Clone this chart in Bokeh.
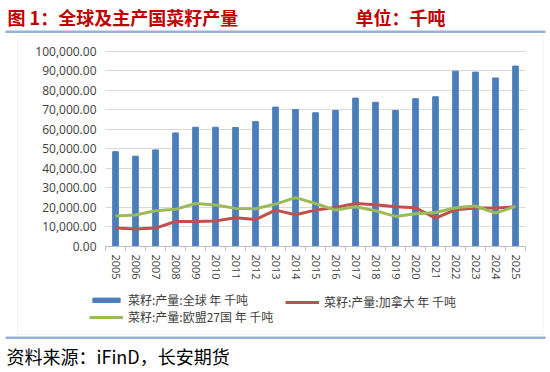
from bokeh.plotting import figure
from bokeh.models import (Range1d, FixedTicker, NumeralTickFormatter, Legend, LegendItem,
                          Label, BoxAnnotation, ColumnDataSource, Grid)
from bokeh.embed import file_html
from bokeh.resources import INLINE

years = list(range(2005, 2026))
world = [48500, 46200, 49400, 58100, 61000, 61000, 60900, 63900, 71300, 70100, 68400,
         69600, 75900, 73800, 69600, 75600, 76600, 89700, 89200, 86200, 92300]
canada = [9400, 8900, 9400, 12800, 12800, 13000, 14700, 13800, 18600, 16200, 18600,
          20000, 22000, 21400, 20300, 19800, 14500, 18800, 19700, 19700, 20300]
eu27 = [15600, 16100, 18300, 19000, 22000, 21200, 19500, 19300, 21700, 25000, 22000,
        18600, 20300, 18300, 15400, 16800, 17400, 19800, 20700, 17100, 20500]

title_text = "图 1：全球及主产国菜籽产量"
unit_text = "单位：千吨"
source_text = "资料来源：iFinD，长安期货"
legend_labels = ["菜籽:产量:全球 年 千吨", "菜籽:产量:加拿大 年 千吨", "菜籽:产量:欧盟27国 年 千吨"]
y_ticks = list(range(0, 100001, 10000))

# ---- layout (pixels on the canvas) ----
W, H = 550, 372
PX_L, PX_R = 105, 525        # plot area left/right
PY_T, PY_B = 50.5, 246       # plot area top (100k) / bottom (0)
x0, x1 = years[0] - 0.5, years[-1] + 0.5
y_lo, y_hi = 0, 100000
xu = (x1 - x0) / (PX_R - PX_L)          # data per px
yu = (y_hi - y_lo) / (PY_B - PY_T)
x_range = Range1d(x0 - PX_L * xu, x1 + (W - PX_R) * xu)
y_range = Range1d(y_lo - (H - PY_B) * yu, y_hi + PY_T * yu)

src = ColumnDataSource(dict(year=years, world=world, canada=canada, eu27=eu27))

p = figure(width=W, height=H, output_backend="svg", toolbar_location=None,
           x_range=x_range, y_range=y_range, min_border=0, title=None)
p.outline_line_color = None
p.background_fill_color = "white"
p.border_fill_color = "white"

# page decorations (screen units: from bottom-left of the frame = canvas)
def sy(py):
    return H - py

p.add_layout(BoxAnnotation(left=17, right=543, top=sy(35), bottom=sy(334), left_units="screen",
                           right_units="screen", top_units="screen", bottom_units="screen",
                           fill_alpha=0, line_color="#D9D9D9", line_width=1, level="underlay"))

# gridlines limited to the plot area
ygrid = p.ygrid[0]
ygrid.ticker = FixedTicker(ticks=y_ticks)
ygrid.grid_line_color = "#D9D9D9"
ygrid.bounds = (y_lo, y_hi)
if "cross_bounds" in Grid.properties():
    ygrid.cross_bounds = (x0, x1)
else:
    ygrid.grid_line_color = None
    p.segment(x0=[x0] * len(y_ticks), x1=[x1] * len(y_ticks), y0=y_ticks, y1=y_ticks,
              line_color="#D9D9D9", line_width=1)
p.xgrid.grid_line_color = None

bars = p.vbar(x="year", top="world", width=0.28, source=src, color="#4A7EBB")
l_ca = p.line(x="year", y="canada", source=src, line_color="#C0504D", line_width=3)
l_eu = p.line(x="year", y="eu27", source=src, line_color="#9BBB59", line_width=3)

# axes placed inside the frame
xa = p.xaxis[0]
xa.fixed_location = 0
xa.bounds = (x0, x1)
xa.ticker = FixedTicker(ticks=years, minor_ticks=[y - 0.5 for y in years] + [x1])
xa.major_label_orientation = "vertical"
xa.major_tick_line_color = None
xa.minor_tick_line_color = "#BFBFBF"
xa.minor_tick_out = 4
xa.minor_tick_in = 0
xa.axis_line_color = "#BFBFBF"
xa.major_label_standoff = 2
xa.major_label_text_font = "Open Sans"
xa.major_label_text_font_size = "11px"
xa.major_label_text_color = "#404040"

ya = p.yaxis[0]
ya.fixed_location = x0
ya.bounds = (y_lo, y_hi)
ya.ticker = FixedTicker(ticks=y_ticks)
ya.formatter = NumeralTickFormatter(format="0,0.00")
ya.axis_line_color = None
ya.major_tick_line_color = None
ya.minor_tick_line_color = None
ya.major_tick_out = 0
ya.major_label_standoff = 9
ya.major_label_text_font = "Open Sans"
ya.major_label_text_font_size = "12px"
ya.major_label_text_color = "#404040"

legend_style = dict(glyph_width=34, glyph_height=6, label_standoff=5,
                    padding=0, margin=0, border_line_color=None, background_fill_alpha=0,
                    label_text_font="Noto Sans CJK SC", label_text_font_size="12px",
                    label_text_color="#404040", label_height=15)
legend_a = Legend(items=[LegendItem(label=legend_labels[0], renderers=[bars]),
                         LegendItem(label=legend_labels[2], renderers=[l_eu])],
                  location=(89, sy(325)), orientation="vertical", spacing=-2, **legend_style)
legend_b = Legend(items=[LegendItem(label=legend_labels[1], renderers=[l_ca])],
                  location=(285, sy(310)), orientation="vertical", spacing=0, **legend_style)
p.add_layout(legend_a, "center")
p.add_layout(legend_b, "center")

p.add_layout(BoxAnnotation(left=5, right=545, top=sy(30), bottom=sy(32.5), left_units="screen",
                           right_units="screen", top_units="screen", bottom_units="screen",
                           fill_color="#95B3D7", fill_alpha=1, line_color=None))
p.add_layout(BoxAnnotation(left=5, right=545, top=sy(336), bottom=sy(338.5), left_units="screen",
                           right_units="screen", top_units="screen", bottom_units="screen",
                           fill_color="#95B3D7", fill_alpha=1, line_color=None))

p.add_layout(Label(x=7, y=sy(16), x_units="screen", y_units="screen", text=title_text,
                   text_font="Noto Sans CJK SC", text_font_style="bold", text_font_size="18px",
                   text_color="#C00000", text_baseline="middle"))
p.add_layout(Label(x=355, y=sy(16), x_units="screen", y_units="screen", text=unit_text,
                   text_font="Noto Sans CJK SC", text_font_style="bold", text_font_size="18px",
                   text_color="#C00000", text_baseline="middle"))
p.add_layout(Label(x=6, y=sy(355), x_units="screen", y_units="screen", text=source_text,
                   text_font="Noto Sans CJK SC", text_font_size="18px",
                   text_color="#000000", text_baseline="middle"))

open("out.html", "w").write(file_html(p, INLINE))
